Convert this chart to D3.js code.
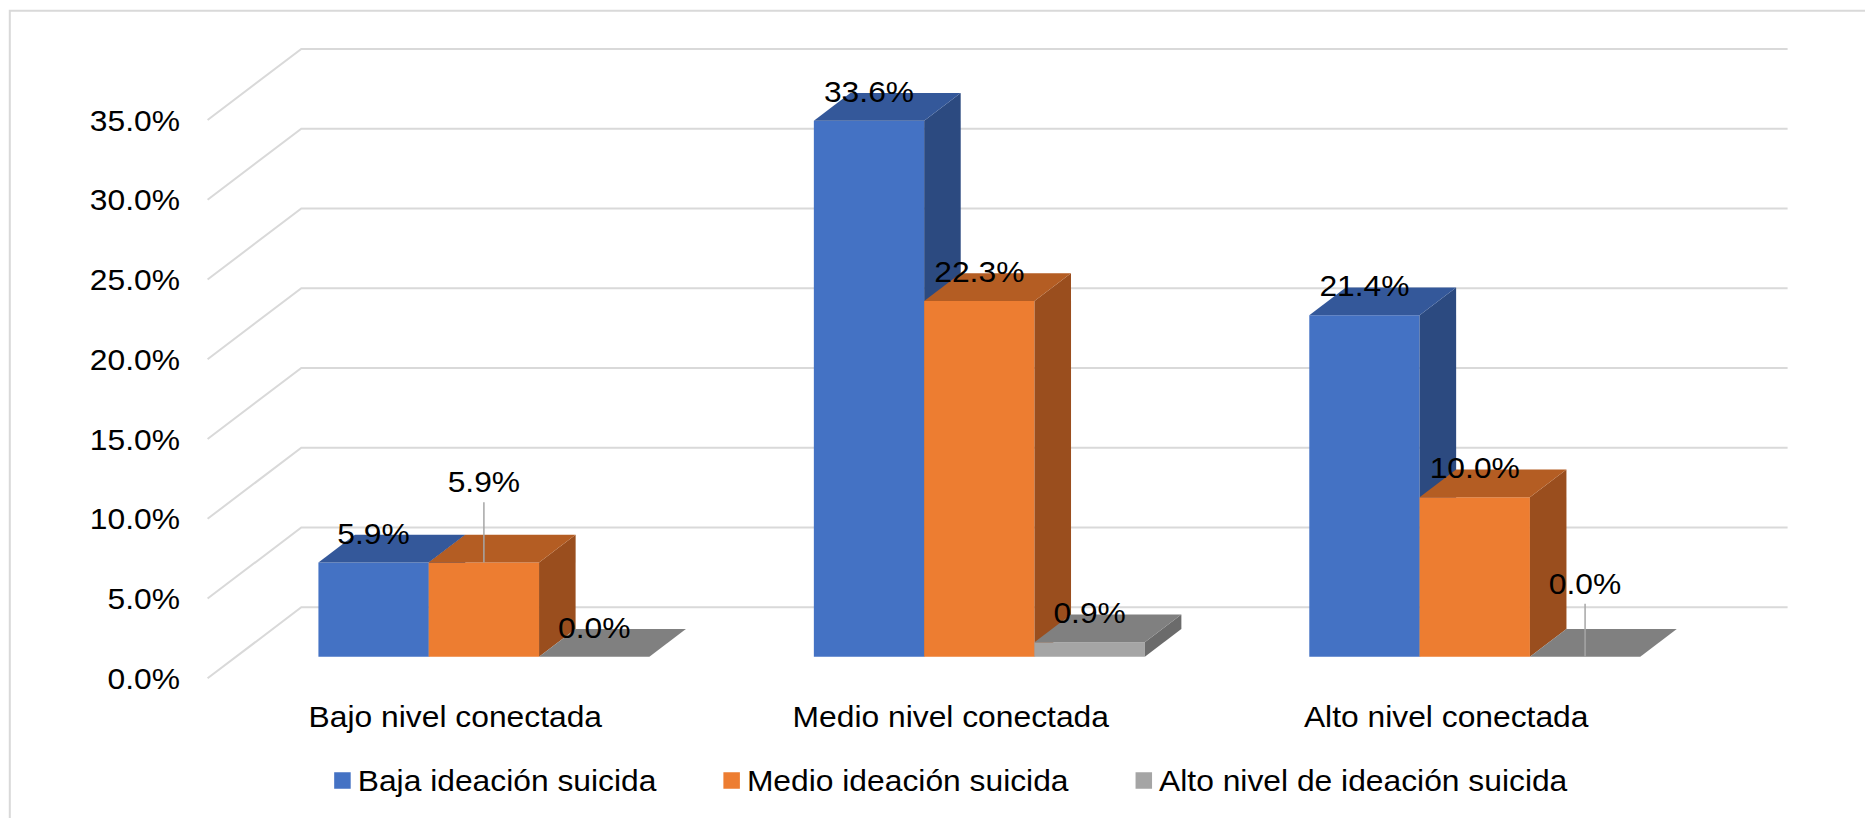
<!DOCTYPE html>
<html>
<head>
<meta charset="utf-8">
<script src="https://cdn.jsdelivr.net/npm/d3@7"></script>
<style>
  body { margin: 0; background: #fff; }
  text { font-family: "Liberation Sans", Arial, sans-serif; fill: #000; }
</style>
</head>
<body>
<svg id="chart" width="1865" height="818"></svg>
<script>
// ---- data ----
const categories = ["Bajo nivel conectada", "Medio nivel conectada", "Alto nivel conectada"];
const seriesNames = ["Baja ideación suicida", "Medio ideación suicida", "Alto nivel de ideación suicida"];
const bajaValues  = [5.9, 33.6, 21.4];
const medioValues = [5.9, 22.3, 10.0];
const altoValues  = [0.0, 0.9, 0.0];
const yTicks = [0, 5, 10, 15, 20, 25, 30, 35];

const seriesValues = [bajaValues, medioValues, altoValues];

// face shading per series: front, top, side
const palette = [
  { front: "#4472C4", top: "#34589A", side: "#2C4A80" },
  { front: "#ED7D31", top: "#B45D23", side: "#9A4E1E" },
  { front: "#A5A5A5", top: "#808080", side: "#6B6B6B" }
];

// labels that are lifted above their bar with a leader line: [series][category] -> px
const labelLift = [[0, 0, 0], [51.5, 0, 0], [0, 0, 44]];

// ---- geometry ----
const svg = d3.select("#chart");
const wall = { left: 301.3, right: 1787.6, floor: 607.3, top: 49 };
const depth = { dx: -93.7, dy: 71 };      // back wall -> front edge of the floor
const barFront = 0.695, barBack = 0.305;  // depth fractions of bar faces
const font = 30, stretch = 1.06;          // text is drawn slightly wide
const grid = "#D9D9D9";

const y = d3.scaleLinear().domain([0, 35]).range([wall.floor, wall.top]);
const x = d3.scaleBand().domain(categories).range([wall.left, wall.right])
  .paddingInner(0.332).paddingOuter(0.166);
const xs = d3.scaleBand().domain(seriesNames).range([0, x.bandwidth()]);

function proj(px, py, f) { return [px + depth.dx * f, py + depth.dy * f]; }
const poly = pts => "M" + pts.map(p => p.join(",")).join("L") + "Z";

// text helper: vertically centred at (tx, ty), horizontally stretched
function label(parent, tx, ty, str, anchor) {
  const t = parent.append("text")
    .attr("transform", `translate(${tx},${ty}) scale(${stretch},1)`)
    .attr("dy", "0.35em")
    .attr("text-anchor", anchor)
    .attr("font-size", font)
    .text(str);
  return t;
}

// chart frame
svg.append("path")
  .attr("d", "M9.8,818L9.8,10.7L1865,10.7")
  .attr("fill", "none").attr("stroke", grid).attr("stroke-width", 2);

// back wall and side wall gridlines
const g = svg.append("g");
yTicks.forEach(t => {
  const yy = y(t);
  const f = proj(wall.left, yy, 1);
  g.append("path")
    .attr("d", `M${f[0]},${f[1]}L${wall.left},${yy}L${wall.right},${yy}`)
    .attr("fill", "none").attr("stroke", grid).attr("stroke-width", 2);
  label(g, f[0] - 27.6, f[1], t.toFixed(1) + "%", "end");
});

// bars (left to right so later faces overlap earlier side faces)
const bars = svg.append("g");
categories.forEach((c, ci) => {
  seriesNames.forEach((s, si) => {
    const v = seriesValues[si][ci];
    const x0 = x(c) + xs(s), x1 = x0 + xs.bandwidth();
    const y0 = y(0), yv = y(v);
    const col = palette[si];
    if (v > 0) {
      bars.append("path")
        .attr("d", poly([proj(x0, y0, barFront), proj(x1, y0, barFront), proj(x1, yv, barFront), proj(x0, yv, barFront)]))
        .attr("fill", col.front);
      bars.append("path")
        .attr("d", poly([proj(x1, y0, barFront), proj(x1, y0, barBack), proj(x1, yv, barBack), proj(x1, yv, barFront)]))
        .attr("fill", col.side);
    }
    bars.append("path")
      .attr("d", poly([proj(x0, yv, barFront), proj(x1, yv, barFront), proj(x1, yv, barBack), proj(x0, yv, barBack)]))
      .attr("fill", col.top);
  });
});

// value labels
const labels = svg.append("g");
categories.forEach((c, ci) => {
  seriesNames.forEach((s, si) => {
    const v = seriesValues[si][ci];
    const xc = x(c) + xs(s) + xs.bandwidth() / 2;
    const p = proj(xc, y(v), barFront);
    const lift = labelLift[si][ci];
    const cy = p[1] - 29.5 - lift;
    if (lift > 0) {
      labels.append("line")
        .attr("x1", p[0]).attr("x2", p[0])
        .attr("y1", cy + 20.6).attr("y2", p[1])
        .attr("stroke", "#A6A6A6").attr("stroke-width", 1.5);
    }
    label(labels, p[0], cy, v.toFixed(1) + "%", "middle");
  });
});

// category labels along the front edge of the floor
categories.forEach(c => {
  const p = proj(x(c) + x.bandwidth() / 2, y(0), 1);
  label(svg, p[0], p[1] + 38.4, c, "middle");
});

// legend
const legend = svg.append("g");
const sq = 16.5, sqGap = 7, itemGap = 67, legendY = 780.5;
const items = seriesNames.map((s, i) => {
  const gi = legend.append("g");
  gi.append("rect").attr("width", sq).attr("height", sq)
    .attr("y", legendY - sq / 2).attr("fill", palette[i].front);
  const t = label(gi, sq + sqGap, legendY, s, "start");
  return { gi, w: sq + sqGap + t.node().getComputedTextLength() * stretch };
});
const total = d3.sum(items, d => d.w) + itemGap * (items.length - 1);
const legendCenter = proj(wall.left + (wall.right - wall.left) / 2, 0, 1)[0];
let cx = legendCenter - total / 2;
items.forEach(d => { d.gi.attr("transform", `translate(${cx},0)`); cx += d.w + itemGap; });
</script>
</body>
</html>
